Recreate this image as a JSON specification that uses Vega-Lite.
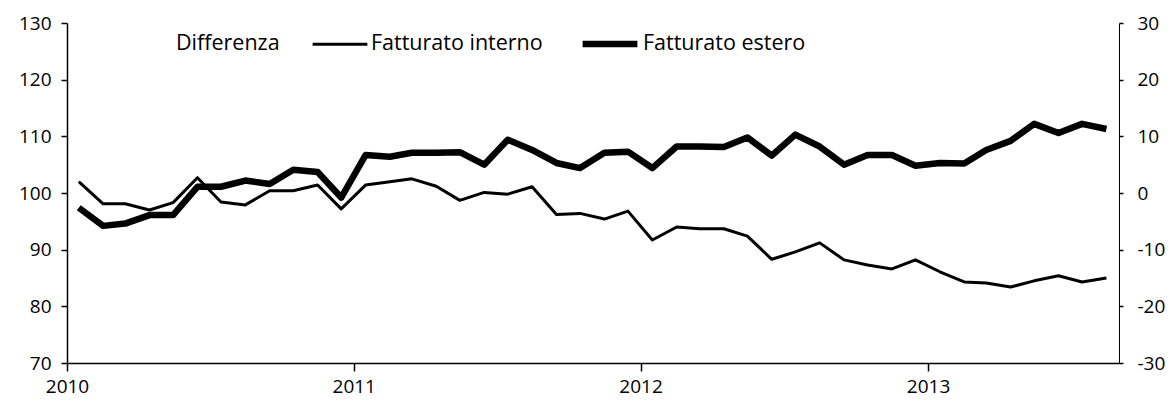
{
  "$schema": "https://vega.github.io/schema/vega-lite/v6.json",
  "width": 1052,
  "height": 340,
  "autosize": {"type": "none"},
  "padding": {"left": 67, "top": 23, "right": 55, "bottom": 42},
  "background": "white",
  "config": {
    "view": {"stroke": null},
    "font": "Open Sans",
    "axis": {"domainColor": "black", "tickColor": "black", "labelColor": "black", "labelFont": "Open Sans", "labelFontSize": 19, "grid": false, "title": null, "domainWidth": 1.5, "tickWidth": 1.5}
  },
  "datasets": {
    "serie": [
      {"data": "2010-01-16", "serie": "Fatturato interno", "valore": 102.0},
      {"data": "2010-02-16", "serie": "Fatturato interno", "valore": 98.1},
      {"data": "2010-03-16", "serie": "Fatturato interno", "valore": 98.1},
      {"data": "2010-04-16", "serie": "Fatturato interno", "valore": 97.0},
      {"data": "2010-05-16", "serie": "Fatturato interno", "valore": 98.3},
      {"data": "2010-06-16", "serie": "Fatturato interno", "valore": 102.7},
      {"data": "2010-07-16", "serie": "Fatturato interno", "valore": 98.4},
      {"data": "2010-08-16", "serie": "Fatturato interno", "valore": 97.9},
      {"data": "2010-09-16", "serie": "Fatturato interno", "valore": 100.4},
      {"data": "2010-10-16", "serie": "Fatturato interno", "valore": 100.4},
      {"data": "2010-11-16", "serie": "Fatturato interno", "valore": 101.4},
      {"data": "2010-12-16", "serie": "Fatturato interno", "valore": 97.2},
      {"data": "2011-01-16", "serie": "Fatturato interno", "valore": 101.4},
      {"data": "2011-02-16", "serie": "Fatturato interno", "valore": 102.0},
      {"data": "2011-03-16", "serie": "Fatturato interno", "valore": 102.5},
      {"data": "2011-04-16", "serie": "Fatturato interno", "valore": 101.2},
      {"data": "2011-05-16", "serie": "Fatturato interno", "valore": 98.7},
      {"data": "2011-06-16", "serie": "Fatturato interno", "valore": 100.1},
      {"data": "2011-07-16", "serie": "Fatturato interno", "valore": 99.8},
      {"data": "2011-08-16", "serie": "Fatturato interno", "valore": 101.1},
      {"data": "2011-09-16", "serie": "Fatturato interno", "valore": 96.2},
      {"data": "2011-10-16", "serie": "Fatturato interno", "valore": 96.4},
      {"data": "2011-11-16", "serie": "Fatturato interno", "valore": 95.4},
      {"data": "2011-12-16", "serie": "Fatturato interno", "valore": 96.8},
      {"data": "2012-01-16", "serie": "Fatturato interno", "valore": 91.7},
      {"data": "2012-02-16", "serie": "Fatturato interno", "valore": 94.0},
      {"data": "2012-03-16", "serie": "Fatturato interno", "valore": 93.7},
      {"data": "2012-04-16", "serie": "Fatturato interno", "valore": 93.7},
      {"data": "2012-05-16", "serie": "Fatturato interno", "valore": 92.4},
      {"data": "2012-06-16", "serie": "Fatturato interno", "valore": 88.3},
      {"data": "2012-07-16", "serie": "Fatturato interno", "valore": 89.6},
      {"data": "2012-08-16", "serie": "Fatturato interno", "valore": 91.2},
      {"data": "2012-09-16", "serie": "Fatturato interno", "valore": 88.2},
      {"data": "2012-10-16", "serie": "Fatturato interno", "valore": 87.3},
      {"data": "2012-11-16", "serie": "Fatturato interno", "valore": 86.6},
      {"data": "2012-12-16", "serie": "Fatturato interno", "valore": 88.2},
      {"data": "2013-01-16", "serie": "Fatturato interno", "valore": 86.1},
      {"data": "2013-02-16", "serie": "Fatturato interno", "valore": 84.3},
      {"data": "2013-03-16", "serie": "Fatturato interno", "valore": 84.1},
      {"data": "2013-04-16", "serie": "Fatturato interno", "valore": 83.4},
      {"data": "2013-05-16", "serie": "Fatturato interno", "valore": 84.5},
      {"data": "2013-06-16", "serie": "Fatturato interno", "valore": 85.4},
      {"data": "2013-07-16", "serie": "Fatturato interno", "valore": 84.3},
      {"data": "2013-08-16", "serie": "Fatturato interno", "valore": 85.0},
      {"data": "2010-01-16", "serie": "Fatturato estero", "valore": 97.4},
      {"data": "2010-02-16", "serie": "Fatturato estero", "valore": 94.2},
      {"data": "2010-03-16", "serie": "Fatturato estero", "valore": 94.6},
      {"data": "2010-04-16", "serie": "Fatturato estero", "valore": 96.1},
      {"data": "2010-05-16", "serie": "Fatturato estero", "valore": 96.1},
      {"data": "2010-06-16", "serie": "Fatturato estero", "valore": 101.1},
      {"data": "2010-07-16", "serie": "Fatturato estero", "valore": 101.1},
      {"data": "2010-08-16", "serie": "Fatturato estero", "valore": 102.2},
      {"data": "2010-09-16", "serie": "Fatturato estero", "valore": 101.6},
      {"data": "2010-10-16", "serie": "Fatturato estero", "valore": 104.1},
      {"data": "2010-11-16", "serie": "Fatturato estero", "valore": 103.7},
      {"data": "2010-12-16", "serie": "Fatturato estero", "valore": 99.2},
      {"data": "2011-01-16", "serie": "Fatturato estero", "valore": 106.7},
      {"data": "2011-02-16", "serie": "Fatturato estero", "valore": 106.4},
      {"data": "2011-03-16", "serie": "Fatturato estero", "valore": 107.1},
      {"data": "2011-04-16", "serie": "Fatturato estero", "valore": 107.1},
      {"data": "2011-05-16", "serie": "Fatturato estero", "valore": 107.2},
      {"data": "2011-06-16", "serie": "Fatturato estero", "valore": 105.0},
      {"data": "2011-07-16", "serie": "Fatturato estero", "valore": 109.4},
      {"data": "2011-08-16", "serie": "Fatturato estero", "valore": 107.6},
      {"data": "2011-09-16", "serie": "Fatturato estero", "valore": 105.3},
      {"data": "2011-10-16", "serie": "Fatturato estero", "valore": 104.4},
      {"data": "2011-11-16", "serie": "Fatturato estero", "valore": 107.1},
      {"data": "2011-12-16", "serie": "Fatturato estero", "valore": 107.3},
      {"data": "2012-01-16", "serie": "Fatturato estero", "valore": 104.4},
      {"data": "2012-02-16", "serie": "Fatturato estero", "valore": 108.2},
      {"data": "2012-03-16", "serie": "Fatturato estero", "valore": 108.2},
      {"data": "2012-04-16", "serie": "Fatturato estero", "valore": 108.1},
      {"data": "2012-05-16", "serie": "Fatturato estero", "valore": 109.8},
      {"data": "2012-06-16", "serie": "Fatturato estero", "valore": 106.6},
      {"data": "2012-07-16", "serie": "Fatturato estero", "valore": 110.3},
      {"data": "2012-08-16", "serie": "Fatturato estero", "valore": 108.2},
      {"data": "2012-09-16", "serie": "Fatturato estero", "valore": 105.0},
      {"data": "2012-10-16", "serie": "Fatturato estero", "valore": 106.7},
      {"data": "2012-11-16", "serie": "Fatturato estero", "valore": 106.7},
      {"data": "2012-12-16", "serie": "Fatturato estero", "valore": 104.8},
      {"data": "2013-01-16", "serie": "Fatturato estero", "valore": 105.3},
      {"data": "2013-02-16", "serie": "Fatturato estero", "valore": 105.2},
      {"data": "2013-03-16", "serie": "Fatturato estero", "valore": 107.6},
      {"data": "2013-04-16", "serie": "Fatturato estero", "valore": 109.2},
      {"data": "2013-05-16", "serie": "Fatturato estero", "valore": 112.2},
      {"data": "2013-06-16", "serie": "Fatturato estero", "valore": 110.6},
      {"data": "2013-07-16", "serie": "Fatturato estero", "valore": 112.2},
      {"data": "2013-08-16", "serie": "Fatturato estero", "valore": 111.3}
    ]
  },
  "layer": [
    {
      "data": {"name": "serie"},
      "mark": {"type": "line", "color": "black", "strokeJoin": "round"},
      "encoding": {
        "x": {
          "field": "data",
          "type": "temporal",
          "scale": {"type": "utc", "domain": [{"year": 2010, "month": 1, "date": 1, "utc": true}, {"year": 2013, "month": 9, "date": 1, "utc": true}], "nice": false},
          "axis": {
            "values": [{"year": 2010, "month": 1, "date": 1, "utc": true}, {"year": 2011, "month": 1, "date": 1, "utc": true}, {"year": 2012, "month": 1, "date": 1, "utc": true}, {"year": 2013, "month": 1, "date": 1, "utc": true}],
            "format": "%Y",
            "tickSize": 8,
            "labelPadding": 6,
            "labelFlush": false
          }
        },
        "y": {
          "field": "valore",
          "type": "quantitative",
          "scale": {"domain": [70, 130], "nice": false, "zero": false},
          "axis": {"values": [70, 80, 90, 100, 110, 120, 130], "tickSize": 6, "labelPadding": 10}
        },
        "detail": {"field": "serie"},
        "strokeWidth": {
          "field": "serie",
          "type": "nominal",
          "scale": {"type": "ordinal", "domain": ["Differenza", "Fatturato interno", "Fatturato estero"], "range": [0.01, 3, 6.5]},
          "legend": {
            "title": null,
            "orient": "none",
            "legendX": 52,
            "legendY": -10,
            "direction": "horizontal",
            "symbolType": "stroke",
            "symbolSize": 3000,
            "symbolStrokeColor": "black",
            "labelFontSize": 21.5,
            "labelFont": "Open Sans",
            "labelColor": "black",
            "labelOffset": 2,
            "columnPadding": 26,
            "labelLimit": 300
          }
        }
      }
    },
    {
      "mark": {"type": "point", "opacity": 0},
      "encoding": {
        "y": {
          "datum": 0,
          "type": "quantitative",
          "scale": {"domain": [-30, 30], "nice": false},
          "axis": {"orient": "right", "values": [-30, -20, -10, 0, 10, 20, 30], "labelExpr": "'' + datum.value", "tickSize": 4, "labelPadding": 14, "domainWidth": 1}
        }
      }
    }
  ],
  "resolve": {"scale": {"y": "independent"}}
}
